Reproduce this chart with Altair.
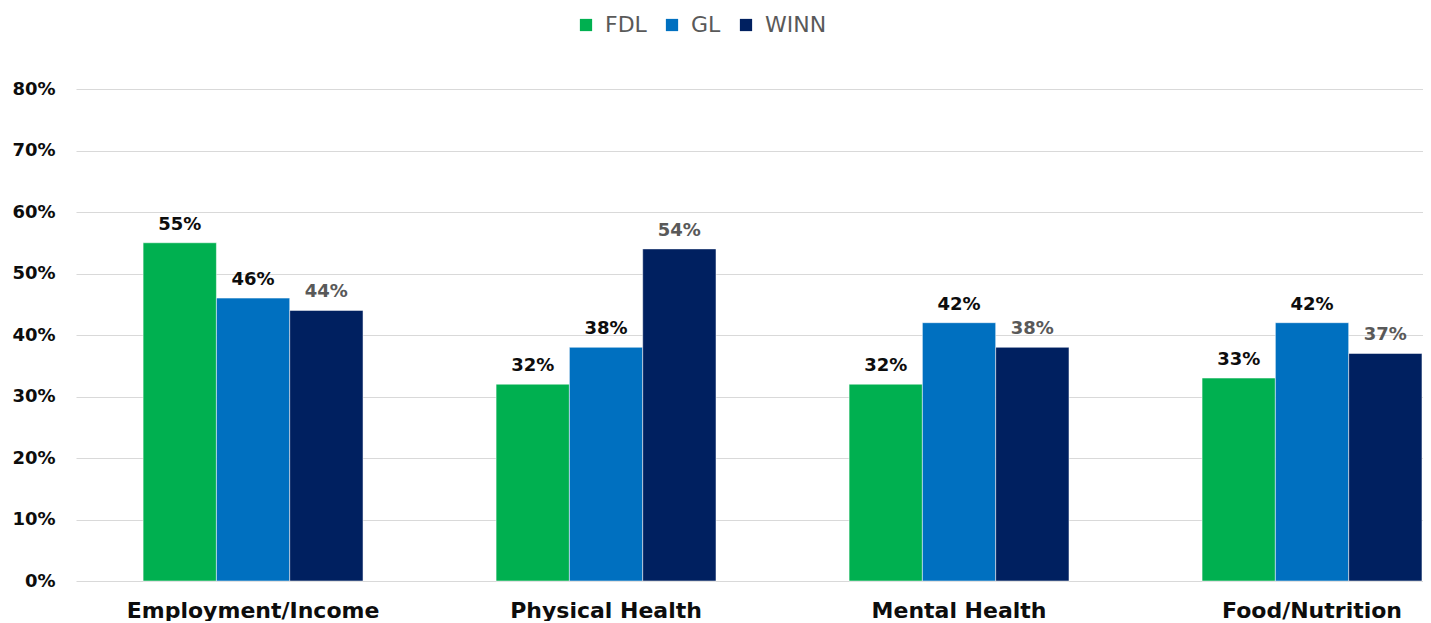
import altair as alt
import pandas as pd

categories = ["Employment/Income", "Physical Health", "Mental Health", "Food/Nutrition"]
series = ["FDL", "GL", "WINN"]
fdl = [0.55, 0.32, 0.32, 0.33]
gl = [0.46, 0.38, 0.42, 0.42]
winn = [0.44, 0.54, 0.38, 0.37]
colors = ["#00B050", "#0070C0", "#002060"]

rows = []
for s, vals in zip(series, [fdl, gl, winn]):
    for c, v in zip(categories, vals):
        rows.append({"Category": c, "Series": s, "Value": v})
df = pd.DataFrame(rows)

FONT = "DejaVu Sans"

x_enc = alt.X(
    "Category:N",
    sort=categories,
    scale=alt.Scale(paddingInner=0.377, paddingOuter=0.0965, align=0.985),
    axis=alt.Axis(
        title=None, labelAngle=0, domain=False, ticks=False, grid=False,
        labelFont=FONT, labelFontWeight="bold", labelFontSize=22, labelLimit=0,
        labelColor="#0d0d0d", labelPadding=19,
    ),
)
xo_enc = alt.XOffset("Series:N", sort=series, scale=alt.Scale(paddingInner=0, paddingOuter=0))
y_enc = alt.Y(
    "Value:Q",
    scale=alt.Scale(domain=[0, 0.8], nice=False),
    axis=alt.Axis(
        title=None, format=".0%", values=[0, 0.1, 0.2, 0.3, 0.4, 0.5, 0.6, 0.7, 0.8],
        domain=False, ticks=False, labelPadding=21,
        labelFont=FONT, labelFontWeight="bold", labelFontSize=18, labelColor="#0d0d0d",
        gridColor="#d9d9d9", gridWidth=1.2,
    ),
)

bars = alt.Chart(df).mark_bar(stroke="white", strokeWidth=0.5).encode(
    x=x_enc,
    xOffset=xo_enc,
    y=y_enc,
    color=alt.Color(
        "Series:N",
        sort=series,
        scale=alt.Scale(domain=series, range=colors),
        legend=alt.Legend(
            title=None, orient="none", direction="horizontal", legendX=499, legendY=-75,
            symbolType="square", symbolSize=150, symbolStrokeWidth=0,
            labelFont=FONT, labelFontSize=22, labelColor="#595959",
            columnPadding=14, symbolOffset=0, labelOffset=8,
        ),
    ),
)

labels = alt.Chart(df).mark_text(
    font=FONT, fontWeight="bold", fontSize=18, baseline="alphabetic", dy=-13
).encode(
    x=alt.X("Category:N", sort=categories),
    xOffset=alt.XOffset("Series:N", sort=series),
    y=alt.Y("Value:Q"),
    text=alt.Text("Value:Q", format=".0%"),
    color=alt.condition("datum.Series == 'WINN'", alt.value("#595959"), alt.value("#0d0d0d")),
)

chart = (
    alt.layer(bars, labels)
    .properties(
        width=1347, height=492,
        padding={"left": 68, "top": 81, "right": 0, "bottom": 40},
        autosize=alt.AutoSizeParams(type="none"),
        background="white",
    )
    .configure_view(stroke=None, strokeWidth=0, strokeOpacity=0)
    .configure_axis(domain=False, ticks=False)
    .configure_axisX(grid=False)
)

chart.save("out.html", embed_options={"renderer": "svg", "actions": False})
